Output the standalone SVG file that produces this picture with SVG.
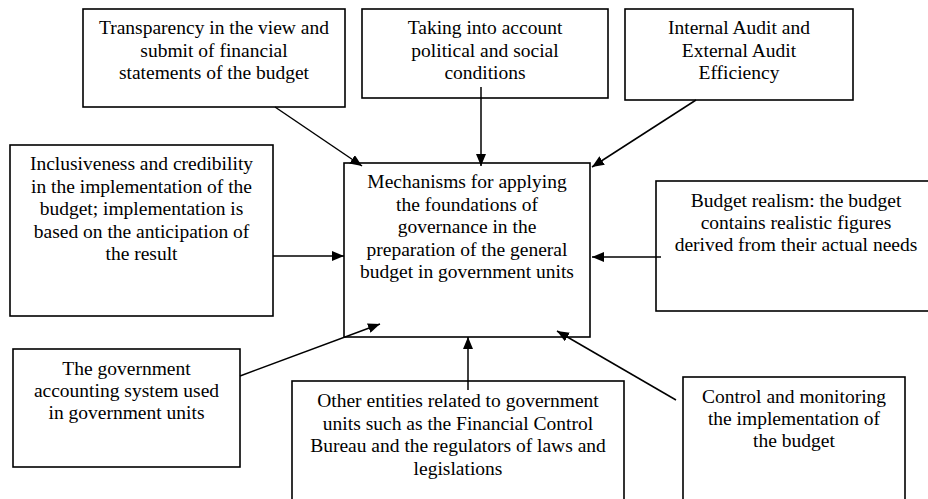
<svg xmlns="http://www.w3.org/2000/svg" width="928" height="499" viewBox="0 0 928 499">
<style>
rect.box{fill:#fff;stroke:#000;stroke-width:1.6}
text{font-family:"Liberation Serif","Times New Roman",serif;font-size:19.5px;fill:#000;text-anchor:middle}
.conn line{stroke:#000;stroke-width:1.5;marker-end:url(#ah)}
</style>
<defs>
<marker id="ah" markerUnits="userSpaceOnUse" markerWidth="12" markerHeight="10" refX="12" refY="5" orient="auto">
<path d="M0,0 L12,5 L0,10 z" fill="#000"/>
</marker>
</defs>
<rect width="928" height="499" fill="#fff"/>
<g id="n-transparency">
<rect class="box" x="83" y="9" width="262" height="98"/>
<text x="214" y="34">Transparency in the view and</text>
<text x="214" y="56.5">submit of financial</text>
<text x="214" y="79">statements of the budget</text>
</g>
<g id="n-political">
<rect class="box" x="362" y="9" width="246" height="89"/>
<text x="485" y="34">Taking into account</text>
<text x="485" y="56.5">political and social</text>
<text x="485" y="79">conditions</text>
</g>
<g id="n-audit">
<rect class="box" x="625" y="9" width="228" height="91"/>
<text x="739" y="34">Internal Audit and</text>
<text x="739" y="56.5">External Audit</text>
<text x="739" y="79">Efficiency</text>
</g>
<g id="n-inclusiveness">
<rect class="box" x="10" y="145" width="263" height="171"/>
<text x="141.5" y="170">Inclusiveness and credibility</text>
<text x="141.5" y="192.5">in the implementation of the</text>
<text x="141.5" y="215">budget; implementation is</text>
<text x="141.5" y="237.5">based on the anticipation of</text>
<text x="141.5" y="260">the result</text>
</g>
<g id="n-center">
<rect class="box" x="344" y="163" width="246" height="174"/>
<text x="467" y="188">Mechanisms for applying</text>
<text x="467" y="210.5">the foundations of</text>
<text x="467" y="233">governance in the</text>
<text x="467" y="255.5">preparation of the general</text>
<text x="467" y="278">budget in government units</text>
</g>
<g id="n-realism">
<rect class="box" x="656" y="181" width="280" height="130"/>
<text x="796" y="207">Budget realism: the budget</text>
<text x="796" y="229">contains realistic figures</text>
<text x="796" y="251">derived from their actual needs</text>
</g>
<g id="n-accounting">
<rect class="box" x="13" y="349" width="227" height="118"/>
<text x="126.5" y="375">The government</text>
<text x="126.5" y="397">accounting system used</text>
<text x="126.5" y="419">in government units</text>
</g>
<g id="n-entities">
<rect class="box" x="292" y="381" width="332" height="130"/>
<text x="458" y="407">Other entities related to government</text>
<text x="458" y="429.5">units such as the Financial Control</text>
<text x="458" y="452">Bureau and the regulators of laws and</text>
<text x="458" y="474.5">legislations</text>
</g>
<g id="n-control">
<rect class="box" x="683" y="377" width="222" height="134"/>
<text x="794" y="403">Control and monitoring</text>
<text x="794" y="425">the implementation of</text>
<text x="794" y="447">the budget</text>
</g>
<g id="connectors" class="conn">
<line x1="275" y1="107" x2="362" y2="166"/>
<line x1="481" y1="87" x2="481" y2="166"/>
<line x1="696" y1="100" x2="592" y2="167"/>
<line x1="273" y1="256" x2="344" y2="256"/>
<line x1="661" y1="257" x2="592" y2="257"/>
<line x1="240" y1="376" x2="380" y2="324"/>
<line x1="468" y1="390" x2="468" y2="337"/>
<line x1="676" y1="400" x2="557" y2="331"/>
</g>
</svg>
